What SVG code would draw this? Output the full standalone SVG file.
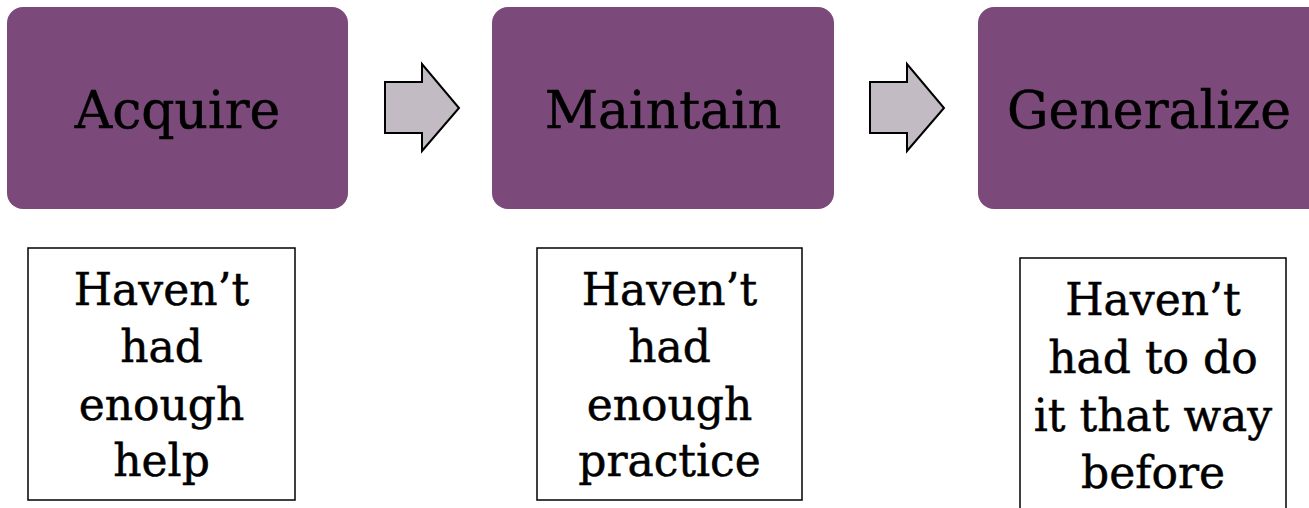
<svg xmlns="http://www.w3.org/2000/svg" width="1309" height="508" viewBox="0 0 1309 508">
<style>
.stage{fill:#7B4A7A;}
.title{font-family:"DejaVu Serif","Liberation Serif",serif;font-size:52px;fill:#000;stroke:#000;stroke-width:0.5;text-anchor:middle;}
.note{fill:#fff;stroke:#000;stroke-width:1.5;}
.body{font-family:"DejaVu Serif","Liberation Serif",serif;font-size:44px;fill:#000;stroke:#000;stroke-width:0.5;text-anchor:middle;}
.arrow{fill:#C3BBC3;stroke:#000;stroke-width:2;stroke-linejoin:miter;}
</style>
<rect width="1309" height="508" fill="#fff"/>
<g id="acquire">
<rect class="stage" x="7" y="7" width="341" height="202" rx="16"/>
<text class="title" x="177.5" y="128">Acquire</text>
</g>
<g id="maintain">
<rect class="stage" x="492" y="7" width="342" height="202" rx="16"/>
<text class="title" x="663" y="128">Maintain</text>
</g>
<g id="generalize">
<rect class="stage" x="978" y="7" width="345" height="202" rx="16"/>
<text class="title" x="1149" y="128">Generalize</text>
</g>
<g id="connectors">
<polygon class="arrow" points="385,82 422,82 422,64 459,108 422,151 422,133 385,133"/>
<polygon class="arrow" points="870,82 907,82 907,64 944,108 907,151 907,133 870,133"/>
</g>
<g id="note-acquire">
<rect class="note" x="28" y="248" width="267" height="252"/>
<text class="body" x="161.5" y="305">Haven’t</text>
<text class="body" x="161.5" y="362">had</text>
<text class="body" x="161.5" y="420">enough</text>
<text class="body" x="161.5" y="476">help</text>
</g>
<g id="note-maintain">
<rect class="note" x="537" y="248" width="265" height="252"/>
<text class="body" x="669.5" y="305">Haven’t</text>
<text class="body" x="669.5" y="362">had</text>
<text class="body" x="669.5" y="420">enough</text>
<text class="body" x="669.5" y="476">practice</text>
</g>
<g id="note-generalize">
<rect class="note" x="1020" y="258" width="266" height="260"/>
<text class="body" x="1153" y="315">Haven’t</text>
<text class="body" x="1153" y="373">had to do</text>
<text class="body" x="1153" y="431">it that way</text>
<text class="body" x="1153" y="488">before</text>
</g>
</svg>
